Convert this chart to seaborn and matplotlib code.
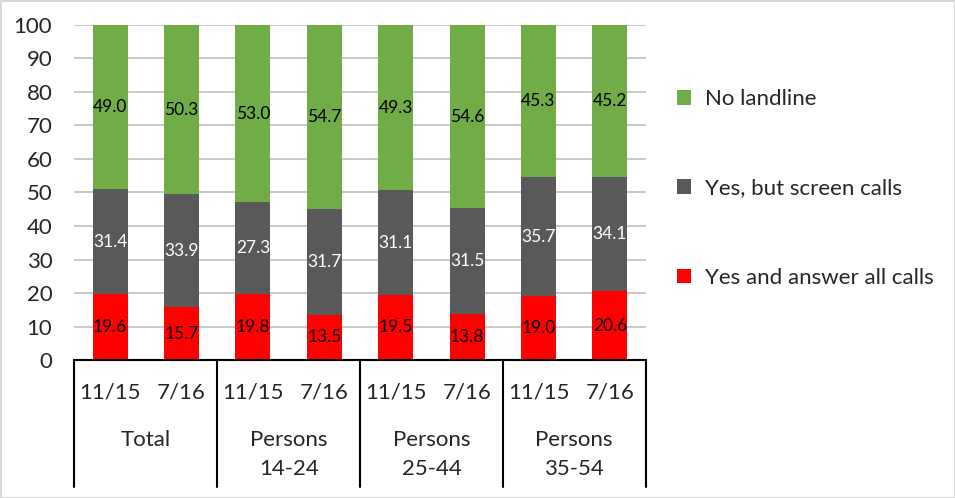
import matplotlib
matplotlib.use("Agg")
import matplotlib.pyplot as plt
import matplotlib.transforms as mtransforms
import seaborn as sns
import pandas as pd
import numpy as np

# values
groups = ["Total", "Persons\n14-24", "Persons\n25-44", "Persons\n35-54"]
periods = ["11/15", "7/16"]
answer_all = [19.6, 15.7, 19.8, 13.5, 19.5, 13.8, 19.0, 20.6]
screen_calls = [31.4, 33.9, 27.3, 31.7, 31.1, 31.5, 35.7, 34.1]
no_landline = [49.0, 50.3, 53.0, 54.7, 49.3, 54.6, 45.3, 45.2]

bar_ids = [f"{g}|{p}" for g in groups for p in periods]
df = pd.DataFrame({
    "bar": bar_ids,
    "answer": answer_all,
    "screen": screen_calls,
    "none": no_landline,
})

sns.set_theme(style="white")
plt.rcParams["font.family"] = ["Lato", "DejaVu Sans"]

fig = plt.figure(figsize=(9.55, 4.98), dpi=100)
fig.patch.set_edgecolor("#d9d9d9")
fig.patch.set_linewidth(2)
ax = fig.add_axes([0.078, 0.277, 0.598, 0.673])

series = [
    ("answer", "Yes and answer all calls", "#ff0000", "black"),
    ("screen", "Yes, but screen calls", "#595959", "white"),
    ("none", "No landline", "#70ad47", "black"),
]
bottom = np.zeros(len(df))
for col, label, color, txt in series:
    sns.barplot(data=df, x="bar", y=col, bottom=bottom, color=color,
                saturation=1, width=0.49, label=label, ax=ax, zorder=2,
                linewidth=0)
    ax.bar_label(ax.containers[-1], labels=[f"{v:.1f}" for v in df[col]],
                 label_type="center", color=txt, fontsize=12.5)
    bottom = bottom + df[col].values

ax.set_ylim(0, 100)
ax.set_xlim(-0.5, len(df) - 0.5)
ax.set_yticks(range(0, 101, 10))
ax.yaxis.grid(True, color="#c0c0c0", linewidth=1.2, zorder=0)
ax.set_axisbelow(True)
for s in ["left", "right", "top"]:
    ax.spines[s].set_visible(False)
ax.spines["bottom"].set_color("black")
ax.spines["bottom"].set_linewidth(1.5)
ax.tick_params(axis="y", length=0, pad=16, labelsize=16)
ax.tick_params(axis="x", length=0, pad=16, labelsize=16)
ax.set_xticks(range(len(df)))
ax.set_xticklabels([p for g in groups for p in periods])
ax.set_xlabel("")
ax.set_ylabel("")

# group separators and labels below the axis
trans = mtransforms.blended_transform_factory(ax.transData, ax.transAxes)
for i in range(len(groups) + 1):
    xpos = i * 2 - 0.5
    ax.plot([xpos, xpos], [0, -0.379], color="black", linewidth=1.5,
            transform=trans, clip_on=False)
for i, g in enumerate(groups):
    ax.text(i * 2 + 0.5, -0.21, g, transform=trans, ha="center", va="top",
            fontsize=16, linespacing=1.55)

handles, labels = ax.get_legend_handles_labels()
ax.legend(handles[::-1], labels[::-1], loc="upper left",
          bbox_to_anchor=(1.02, 0.868), frameon=False, fontsize=16,
          labelspacing=3.12, handlelength=0.65, handleheight=0.65,
          handletextpad=0.6)

fig.savefig("out.png", dpi=100)
